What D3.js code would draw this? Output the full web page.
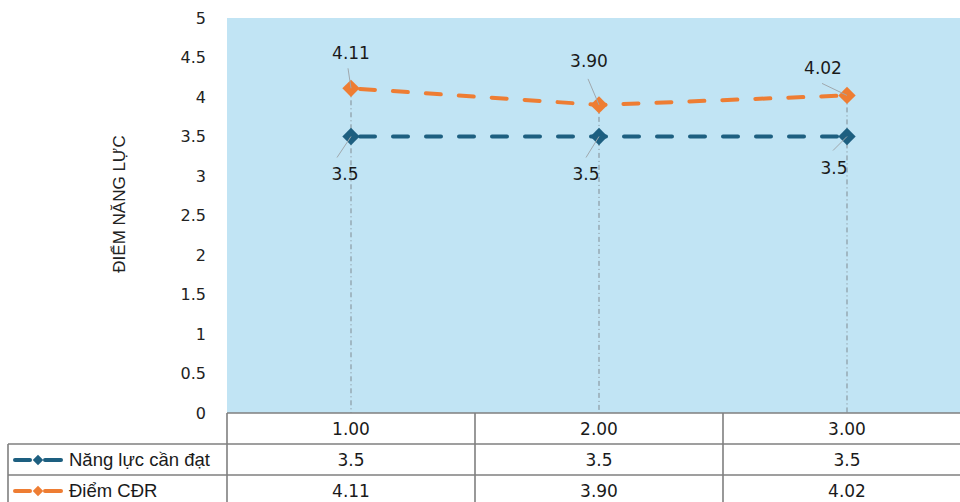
<!DOCTYPE html>
<html>
<head>
<meta charset="utf-8">
<script src="https://cdn.jsdelivr.net/npm/d3@7"></script>
<style>
  html, body { margin: 0; padding: 0; background: #fff; }
  svg { display: block; font-family: "DejaVu Sans", "Liberation Sans", Arial, sans-serif; }
</style>
</head>
<body>
<svg id="chart" width="960" height="502"></svg>
<script>
// Categories along the x axis (shown in the data table header)
const categories = ["1.00", "2.00", "3.00"];
// Required competency level
const requiredValues = [3.5, 3.5, 3.5];
const requiredLabels = ["3.5", "3.5", "3.5"];
// Achieved learning-outcome score
const scoreValues = [4.11, 3.90, 4.02];
const scoreLabels = ["4.11", "3.90", "4.02"];
// Y axis ticks
const yTicks = [0, 0.5, 1, 1.5, 2, 2.5, 3, 3.5, 4, 4.5, 5];

const seriesNames = ["Năng lực cần đạt", "Điểm CĐR"];
const colors = { required: "#1d5f80", score: "#ee7d33" };
const numFont = "DejaVu Sans, Liberation Sans, Arial, sans-serif";
const textFont = "Liberation Sans, Arial, sans-serif";

const svg = d3.select("#chart");
const plot = { left: 227, right: 971, top: 18, bottom: 413 };

const x = d3.scaleBand().domain(categories).range([plot.left, plot.right]).padding(0);
const y = d3.scaleLinear().domain([0, 5]).range([plot.bottom, plot.top]);
const cx = c => x(c) + x.bandwidth() / 2;

// Plot background
svg.append("rect")
  .attr("x", plot.left).attr("y", plot.top)
  .attr("width", plot.right - plot.left).attr("height", plot.bottom - plot.top)
  .attr("fill", "#c1e4f4");

// Y axis labels
const yAxis = d3.axisLeft(y).tickValues(yTicks).tickSize(0).tickPadding(0)
  .tickFormat(d => String(d));
const gy = svg.append("g").attr("transform", "translate(206,0)").call(yAxis);
gy.select(".domain").remove();
gy.selectAll("text").attr("font-size", 16).attr("fill", "#222")
  .attr("font-family", numFont);

// Y axis title
svg.append("text")
  .attr("transform", "translate(125,204) rotate(-90)")
  .attr("text-anchor", "middle")
  .attr("font-family", textFont)
  .attr("font-size", 17).attr("fill", "#222")
  .text("ĐIỂM NĂNG LỰC");

// Drop lines from the upper series down to the axis
svg.append("g").selectAll("line")
  .data(categories)
  .join("line")
  .attr("x1", d => cx(d)).attr("x2", d => cx(d))
  .attr("y1", (d, i) => y(scoreValues[i])).attr("y2", plot.bottom)
  .attr("stroke", "#808b92").attr("stroke-width", 1)
  .attr("stroke-dasharray", "5,3,1,3");

const line = d3.line().x(d => cx(d.c)).y(d => y(d.v));

function drawSeries(values, color) {
  const pts = categories.map((c, i) => ({ c, v: values[i] }));
  svg.append("path")
    .datum(pts)
    .attr("d", line)
    .attr("fill", "none")
    .attr("stroke", color)
    .attr("stroke-width", 4)
    .attr("stroke-linecap", "round")
    .attr("stroke-dasharray", "15,18")
    .attr("stroke-dashoffset", -9);
  svg.append("g").selectAll("path")
    .data(pts)
    .join("path")
    .attr("transform", d => `translate(${cx(d.c)},${y(d.v)}) rotate(45)`)
    .attr("d", d3.symbol().type(d3.symbolSquare).size(150))
    .attr("fill", color);
}
drawSeries(requiredValues, colors.required);
drawSeries(scoreValues, colors.score);

// Data labels with leader lines (offsets relative to each point)
const scoreLabelPos = [
  { dx: 0, dy: -34, lx1: -3, ly1: -20 },
  { dx: -10, dy: -43, lx1: -11, ly1: -26 },
  { dx: -24, dy: -26, lx1: -25, ly1: -12 }
];
const reqLabelPos = [
  { dx: -6, dy: 38, lx1: -14, ly1: 21 },
  { dx: -13, dy: 38, lx1: -13, ly1: 21 },
  { dx: -13, dy: 32, lx1: -14, ly1: 14 }
];

function drawLabels(values, labels, pos) {
  const g = svg.append("g");
  categories.forEach((c, i) => {
    const px = cx(c), py = y(values[i]);
    const p = pos[i];
    g.append("line")
      .attr("x1", px + p.lx1).attr("y1", py + p.ly1)
      .attr("x2", px).attr("y2", py)
      .attr("stroke", "#a0a8ad").attr("stroke-width", 1);
    g.append("text")
      .attr("x", px + p.dx).attr("y", py + p.dy)
      .attr("text-anchor", "middle")
      .attr("dominant-baseline", "middle")
      .attr("font-family", numFont)
      .attr("font-size", 17).attr("fill", "#1a1a1a")
      .text(labels[i]);
  });
}
drawLabels(scoreValues, scoreLabels, scoreLabelPos);
drawLabels(requiredValues, requiredLabels, reqLabelPos);

// Data table below the plot
const grid = svg.append("g").attr("stroke", "#7f7f7f").attr("stroke-width", 1.6);
grid.append("line").attr("x1", plot.left).attr("x2", 960).attr("y1", 413).attr("y2", 413);
grid.append("line").attr("x1", 8).attr("x2", 960).attr("y1", 444).attr("y2", 444);
grid.append("line").attr("x1", 8).attr("x2", 960).attr("y1", 475).attr("y2", 475);
grid.append("line").attr("x1", 8).attr("x2", 8).attr("y1", 444).attr("y2", 502);
categories.forEach(c => {
  grid.append("line").attr("x1", x(c)).attr("x2", x(c)).attr("y1", 413).attr("y2", 502);
});

const tableText = svg.append("g").attr("font-size", 17).attr("fill", "#1a1a1a")
  .attr("font-family", numFont).attr("text-anchor", "middle");
categories.forEach((c, i) => {
  tableText.append("text").attr("x", cx(c)).attr("y", 430).attr("dominant-baseline", "middle").text(c);
  tableText.append("text").attr("x", cx(c)).attr("y", 461).attr("dominant-baseline", "middle").text(requiredLabels[i]);
  tableText.append("text").attr("x", cx(c)).attr("y", 492).attr("dominant-baseline", "middle").text(scoreLabels[i]);
});

// Legend keys inside the table
[[seriesNames[0], colors.required, 460], [seriesNames[1], colors.score, 491]].forEach(([name, col, ly]) => {
  const g = svg.append("g");
  g.append("line").attr("x1", 15).attr("x2", 30).attr("y1", ly).attr("y2", ly)
    .attr("stroke", col).attr("stroke-width", 4).attr("stroke-linecap", "round");
  g.append("line").attr("x1", 45).attr("x2", 61).attr("y1", ly).attr("y2", ly)
    .attr("stroke", col).attr("stroke-width", 4).attr("stroke-linecap", "round");
  g.append("path").attr("transform", `translate(38,${ly}) rotate(45)`)
    .attr("d", d3.symbol().type(d3.symbolSquare).size(55)).attr("fill", col);
  g.append("text").attr("x", 69).attr("y", ly + 1).attr("dominant-baseline", "middle")
    .attr("font-family", textFont)
    .attr("font-size", 18.5).attr("fill", "#1a1a1a").text(name);
});
</script>
</body>
</html>
